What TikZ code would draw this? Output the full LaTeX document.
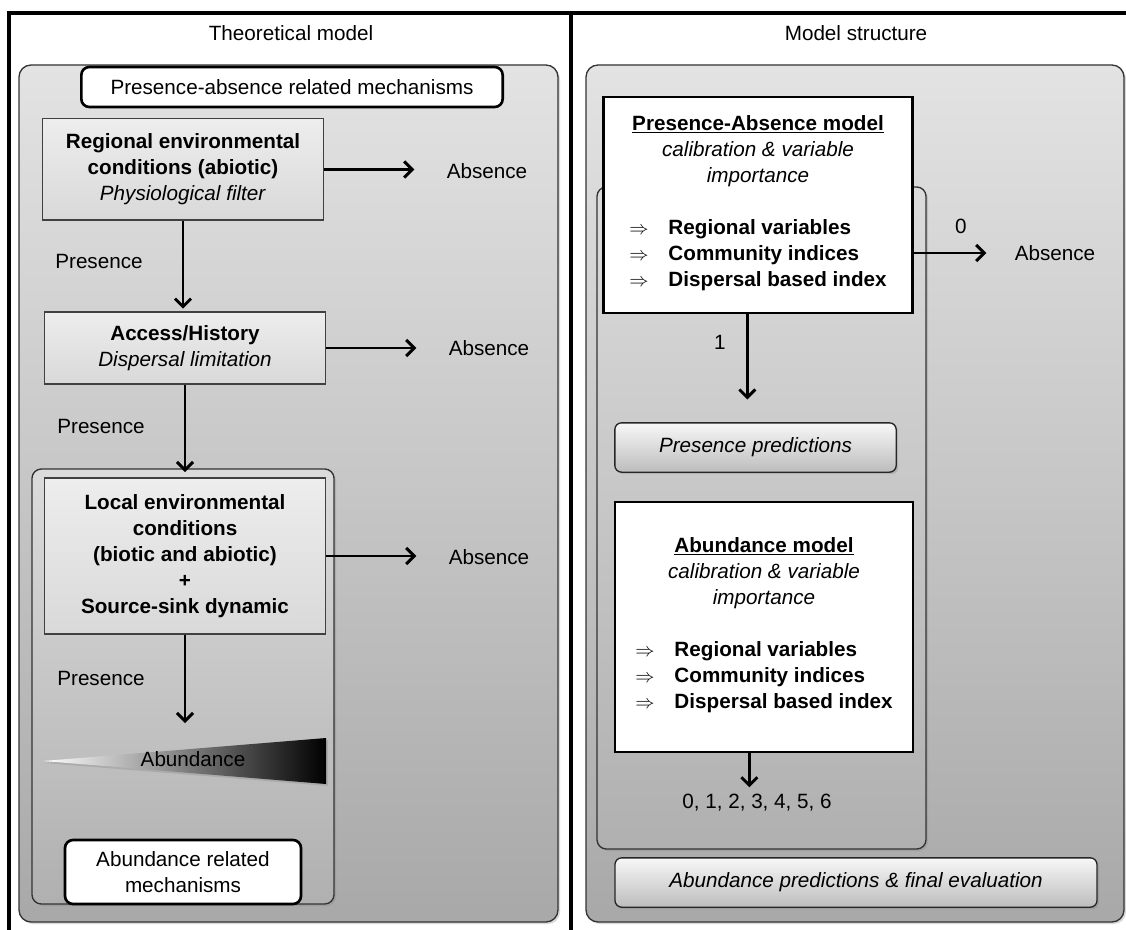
\documentclass[tikz,border=0pt]{standalone}
\usepackage{fontspec}
\setmainfont{Liberation Sans}
\usetikzlibrary{arrows.meta,shadows}

\definecolor{paneltop}{gray}{0.89}
\definecolor{panelbot}{gray}{0.66}
\definecolor{grptop}{gray}{0.86}
\definecolor{grpbot}{gray}{0.69}
\definecolor{condtop}{gray}{0.93}
\definecolor{condbot}{gray}{0.85}
\definecolor{predtop}{gray}{0.97}
\definecolor{predbot}{gray}{0.74}

\tikzset{
  softshadow/.style={drop shadow={opacity=0.3, shadow xshift=1.5pt, shadow yshift=-1.5pt}},
  panel/.style={draw=black!80, line width=1pt, rounded corners=9pt, top color=paneltop, bottom color=panelbot},
  grp/.style={draw=black!80, line width=1pt, rounded corners=7pt, top color=grptop, bottom color=grpbot},
  condbox/.style={draw=black!75, line width=1pt, top color=condtop, bottom color=condbot, align=center, inner sep=0pt},
  headbox/.style={draw, line width=2pt, rounded corners=6pt, fill=white, align=center, inner sep=0pt},
  modelbox/.style={draw, line width=2.2pt, fill=white, align=center, inner sep=0pt},
  predbox/.style={draw=black!85, line width=1pt, rounded corners=5pt, top color=predtop, bottom color=predbot, inner sep=0pt, softshadow},
  arr/.style={-{Straight Barb[length=6pt,width=12pt]}, line width=2.2pt},
  toabs/.style={arr, shorten >=19pt},
  plab/.style={left=24pt}
}

\begin{document}
\fontsize{15.5pt}{19.5pt}\selectfont
\begin{tikzpicture}[x=0.75pt, y=-0.75pt]
\useasboundingbox (0,0) rectangle (1126,930);

% grey panels and frame
\draw[panel, softshadow] (19,65) rectangle (558,922);
\draw[panel, softshadow] (586,65) rectangle (1124,922);
\draw[line width=3pt] (9,930) -- (9,13) -- (1126,13);
\draw[line width=3pt] (571,13) -- (571,930);

\node (ttheo) at (291,33) {Theoretical model};
\node (tstruct) at (856,33) {Model structure};

% theoretical model
\node[headbox, minimum width=316pt, minimum height=30pt] (pahead) at (292,87) {Presence-absence related mechanisms};
\node[condbox, minimum width=211pt, minimum height=76pt] (regional) at (183,169.5)
  {\textbf{Regional environmental}\\\textbf{conditions (abiotic)}\\\textit{Physiological filter}};
\node[condbox, minimum width=211pt, minimum height=54pt] (access) at (185,348)
  {\textbf{Access/History}\\\textit{Dispersal limitation}};
\draw[grp, softshadow] (32,469) rectangle (334,904);
\node[condbox, minimum width=211pt, minimum height=117pt] (local) at (185,556)
  {\textbf{Local environmental}\\\textbf{conditions}\\\textbf{(biotic and abiotic)}\\\textbf{+}\\\textbf{Source-sink dynamic}};
\shade[left color=white, right color=black, softshadow] (43,761) -- (326,738) -- (326,784) -- cycle;
\node (abund) at (193,759) {Abundance};
\coordinate (wedgetop) at (185,723);
\node[headbox, minimum width=177pt, minimum height=48pt] (abhead) at (183,872) {Abundance related\\mechanisms};

\node (abs1) at (487,171) {Absence};
\node (abs2) at (489,348) {Absence};
\node (abs3) at (489,557) {Absence};

\draw[toabs] (regional.east) -- (regional.east -| abs1.west);
\draw[toabs] (access.east) -- (access.east -| abs2.west);
\draw[toabs] (local.east) -- (local.east -| abs3.west);
\draw[arr, shorten >=2pt] (regional.south) -- node[plab, pos=0.45] {Presence} (regional.south |- access.north);
\draw[arr, shorten >=4pt] (access.south) -- node[plab, pos=0.45] {Presence} (access.south |- local.north);
\draw[arr] (local.south) -- node[plab] {Presence} (wedgetop);

% model structure
\draw[grp, softshadow] (597,187) rectangle (926,849);
\node[modelbox, minimum width=232pt, minimum height=162pt] (pamodel) at (758,205)
  {\underline{\textbf{Presence-Absence model}}\\\textit{calibration \& variable}\\\textit{importance}\\[19.5pt]
   \begin{tabular}[t]{@{}l@{\hspace{15pt}}l@{}}
   $\Rightarrow$ & \textbf{Regional variables}\\
   $\Rightarrow$ & \textbf{Community indices}\\
   $\Rightarrow$ & \textbf{Dispersal based index}
   \end{tabular}};
\node[predbox, minimum width=211pt, minimum height=37pt] (prespred) at (755.5,447.5) {\textit{Presence predictions}};
\node[modelbox, minimum width=223.5pt, minimum height=187.5pt] (abmodel) at (764,627)
  {\underline{\textbf{Abundance model}}\\\textit{calibration \& variable}\\\textit{importance}\\[19.5pt]
   \begin{tabular}[t]{@{}l@{\hspace{15pt}}l@{}}
   $\Rightarrow$ & \textbf{Regional variables}\\
   $\Rightarrow$ & \textbf{Community indices}\\
   $\Rightarrow$ & \textbf{Dispersal based index}
   \end{tabular}};
\node (counts) at (757,803) {0, 1, 2, 3, 4, 5, 6};
\node[predbox, minimum width=361.5pt, minimum height=37pt] (abpred) at (856,882.5) {\textit{Abundance predictions \& final evaluation}};
\node (absR) at (1055,253) {Absence};

\draw[toabs, shorten >=16pt] (pamodel.east |- absR.west) -- node[above=8pt] {0} (absR.west);
\draw[arr, shorten >=17pt] ([xshift=-8pt]pamodel.south) -- node[left=10pt, pos=0.26] {1} ([xshift=-8pt]pamodel.south |- prespred.north);
\draw[arr] ([xshift=-11pt]abmodel.south) -- ([xshift=-11pt]abmodel.south |- counts.north);
\end{tikzpicture}
\end{document}
